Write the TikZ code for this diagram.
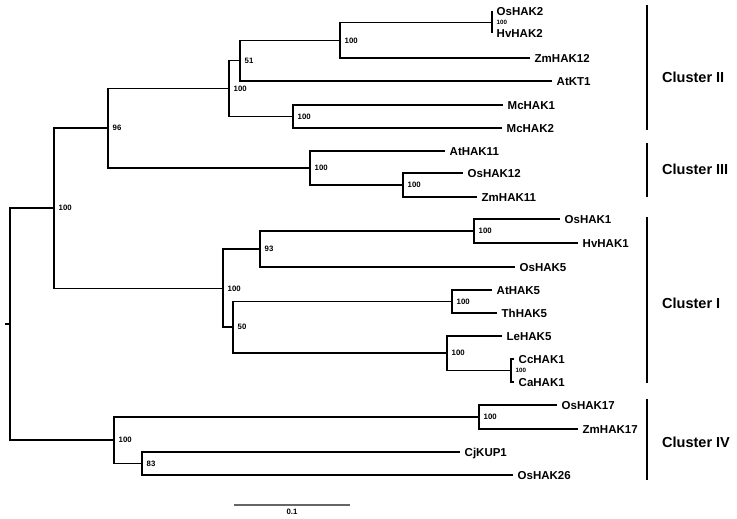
\documentclass[tikz,border=0pt]{standalone}
\usepackage{fontspec}
\setmainfont{Liberation Sans}
\usetikzlibrary{positioning}

\begin{document}
\begin{tikzpicture}
[x=1pt,y=-1pt,
 branch/.style={line width=1.5pt},
 leaf/.style={anchor=west,inner xsep=4.5pt,inner ysep=0pt,text height=8.2pt,text depth=0pt,
   font=\fontsize{11.5}{12}\selectfont\bfseries},
 boot/.style={inner sep=0pt,font=\fontsize{7.8}{8}\selectfont\bfseries},
 tinyboot/.style={inner sep=0pt,font=\fontsize{6.2}{7}\selectfont\bfseries},
 clbar/.style={line width=2pt},
 clust/.style={anchor=west,inner sep=0pt,font=\fontsize{14.5}{15}\selectfont\bfseries},
 scalebar/.style={line width=1.8pt,draw=black!60}]

\useasboundingbox (0,0) rectangle (737,519);

% internal nodes
\coordinate (stub) at (5,324);
\coordinate (root) at (10,324);
\coordinate (nA) at (54,208);
\coordinate (nB) at (108,128);
\coordinate (nC) at (229,88.75);
\coordinate (nD) at (240,60.75);
\coordinate (nE) at (340,40.5);
\coordinate (nOH) at (492,22.5);
\coordinate (nF) at (293,116.5);
\coordinate (nG) at (310,168);
\coordinate (nH) at (403,185);
\coordinate (nI) at (223,288.5);
\coordinate (nJ) at (260,249);
\coordinate (nK) at (474,231);
\coordinate (nL) at (233,327);
\coordinate (nM) at (452,301.5);
\coordinate (nN) at (447,353);
\coordinate (nO) at (511,370.5);
\coordinate (nP) at (114,440);
\coordinate (nQ) at (479,417);
\coordinate (nR) at (142,463.5);

% leaves
\node[leaf] (OsHAK2) at (492,11.5) {OsHAK2};
\node[leaf] (HvHAK2) at (492,33.5) {HvHAK2};
\node[leaf] (ZmHAK12) at (530,58) {ZmHAK12};
\node[leaf] (AtKT1) at (552,81) {AtKT1};
\node[leaf] (McHAK1) at (503,105) {McHAK1};
\node[leaf] (McHAK2) at (502,128) {McHAK2};
\node[leaf] (AtHAK11) at (445,151) {AtHAK11};
\node[leaf] (OsHAK12) at (463,173) {OsHAK12};
\node[leaf] (ZmHAK11) at (477,197) {ZmHAK11};
\node[leaf] (OsHAK1) at (560,219) {OsHAK1};
\node[leaf] (HvHAK1) at (578,243) {HvHAK1};
\node[leaf] (OsHAK5) at (515,267) {OsHAK5};
\node[leaf] (AtHAK5) at (492,290) {AtHAK5};
\node[leaf] (ThHAK5) at (497,313) {ThHAK5};
\node[leaf] (LeHAK5) at (502,336) {LeHAK5};
\node[leaf] (CcHAK1) at (514,359) {CcHAK1};
\node[leaf] (CaHAK1) at (514,382) {CaHAK1};
\node[leaf] (OsHAK17) at (557,405) {OsHAK17};
\node[leaf] (ZmHAK17) at (578,429) {ZmHAK17};
\node[leaf] (CjKUP1) at (460,452) {CjKUP1};
\node[leaf] (OsHAK26) at (513,475) {OsHAK26};

% branches
\draw[branch] (stub) -- (root);
\draw[branch] (root) |- (nA);
\draw[branch] (root) |- (nP);
\draw[branch] (nA) |- (nB);
\draw[branch] (nA) |- (nI);
\draw[branch] (nB) |- (nC);
\draw[branch] (nB) |- (nG);
\draw[branch] (nC) |- (nD);
\draw[branch] (nC) |- (nF);
\draw[branch] (nD) |- (nE);
\draw[branch] (nD) |- (AtKT1.west);
\draw[branch] (nE) |- (nOH);
\draw[branch] (nE) |- (ZmHAK12.west);
\draw[branch] (nOH) |- (OsHAK2.west);
\draw[branch] (nOH) |- (HvHAK2.west);
\draw[branch] (nF) |- (McHAK1.west);
\draw[branch] (nF) |- (McHAK2.west);
\draw[branch] (nG) |- (AtHAK11.west);
\draw[branch] (nG) |- (nH);
\draw[branch] (nH) |- (OsHAK12.west);
\draw[branch] (nH) |- (ZmHAK11.west);
\draw[branch] (nI) |- (nJ);
\draw[branch] (nI) |- (nL);
\draw[branch] (nJ) |- (nK);
\draw[branch] (nJ) |- (OsHAK5.west);
\draw[branch] (nK) |- (OsHAK1.west);
\draw[branch] (nK) |- (HvHAK1.west);
\draw[branch] (nL) |- (nM);
\draw[branch] (nL) |- (nN);
\draw[branch] (nM) |- (AtHAK5.west);
\draw[branch] (nM) |- (ThHAK5.west);
\draw[branch] (nN) |- (LeHAK5.west);
\draw[branch] (nN) |- (nO);
\draw[branch] (nO) |- (CcHAK1.west);
\draw[branch] (nO) |- (CaHAK1.west);
\draw[branch] (nP) |- (nQ);
\draw[branch] (nP) |- (nR);
\draw[branch] (nQ) |- (OsHAK17.west);
\draw[branch] (nQ) |- (ZmHAK17.west);
\draw[branch] (nR) |- (CjKUP1.west);
\draw[branch] (nR) |- (OsHAK26.west);

% bootstrap values
\node[boot,right=4.5pt of nA] (bA) {100};
\node[boot,right=4.5pt of nB] (bB) {96};
\node[boot,right=4.5pt of nC] (bC) {100};
\node[boot,right=4.5pt of nD] (bD) {51};
\node[boot,right=4.5pt of nE] (bE) {100};
\node[tinyboot,right=4.5pt of nOH] (bOH) {100};
\node[boot,right=4.5pt of nF] (bF) {100};
\node[boot,right=4.5pt of nG] (bG) {100};
\node[boot,right=4.5pt of nH] (bH) {100};
\node[boot,right=4.5pt of nI] (bI) {100};
\node[boot,right=4.5pt of nJ] (bJ) {93};
\node[boot,right=4.5pt of nK] (bK) {100};
\node[boot,right=4.5pt of nL] (bL) {50};
\node[boot,right=4.5pt of nM] (bM) {100};
\node[boot,right=4.5pt of nN] (bN) {100};
\node[tinyboot,right=4.5pt of nO] (bO) {100};
\node[boot,right=4.5pt of nP] (bP) {100};
\node[boot,right=4.5pt of nQ] (bQ) {100};
\node[boot,right=4.5pt of nR] (bR) {83};

% clusters
\draw[clbar] (647,5) -- (647,130);
\node[clust] (cl2) at (662,77) {Cluster II};
\draw[clbar] (647,143) -- (647,197);
\node[clust] (cl3) at (662,169) {Cluster III};
\draw[clbar] (647,217) -- (647,383);
\node[clust] (cl1) at (662,303) {Cluster I};
\draw[clbar] (647,399) -- (647,480);
\node[clust] (cl4) at (662,442) {Cluster IV};

% scale
\draw[scalebar] (234,505) -- (350,505)
	node (sc) [boot,midway,below=3pt] {0.1};
\end{tikzpicture}
\end{document}
